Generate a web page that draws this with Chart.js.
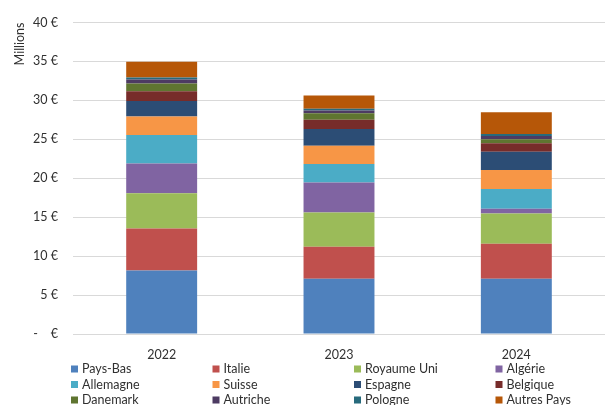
<!DOCTYPE html>
<html>
<head>
<meta charset="utf-8">
<script src="https://cdn.jsdelivr.net/npm/chart.js@4/dist/chart.umd.min.js"></script>
<style>
html,body{margin:0;padding:0;background:#fff;}
#wrap{position:relative;width:606px;height:405px;}
</style>
</head>
<body>
<div id="wrap"><canvas id="c" width="606" height="405"></canvas></div>
<script>
const years = ['2022', '2023', '2024'];
const seriesNames = ['Pays-Bas','Italie','Royaume Uni','Algérie','Allemagne','Suisse','Espagne','Belgique','Danemark','Autriche','Pologne','Autres Pays'];
const paysBas    = [8.16, 7.11, 7.11];
const italie     = [5.38, 4.10, 4.48];
const royaumeUni = [4.52, 4.40, 3.89];
const algerie    = [3.85, 3.85, 0.59];
const allemagne  = [3.64, 2.37, 2.54];
const suisse     = [2.37, 2.33, 2.46];
const espagne    = [1.99, 2.16, 2.32];
const belgique   = [1.27, 1.18, 1.10];
const danemark   = [1.00, 0.85, 0.51];
const autriche   = [0.50, 0.34, 0.42];
const pologne    = [0.25, 0.25, 0.25];
const autresPays = [2.03, 1.69, 2.79];
const seriesValues = [paysBas, italie, royaumeUni, algerie, allemagne, suisse, espagne, belgique, danemark, autriche, pologne, autresPays];
const colors = ['#4F81BD','#C0504D','#9BBB59','#8064A2','#4BACC6','#F79646','#2C4D75','#772C2A','#5F7530','#4D3B62','#276A7C','#B65708'];
const yTicks = [0,5,10,15,20,25,30,35,40];

const FONT = 'Lato';
const TEXT = '#303030';
const legendPlugin = {
  id: 'gridLegend',
  afterDraw(chart) {
    const ctx = chart.ctx;
    ctx.save();
    ctx.font = '12.5px ' + FONT;
    ctx.textBaseline = 'middle';
    ctx.textAlign = 'left';
    chart.data.datasets.forEach((ds, i) => {
      const col = i % 4, row = Math.floor(i / 4);
      const x = 71 + col * 141.5;
      const y = 369 + row * 15.5;
      ctx.fillStyle = ds.backgroundColor;
      ctx.fillRect(x, y - 3.5, 7, 7);
      ctx.fillStyle = TEXT;
      ctx.fillText(ds.label, x + 11, y);
    });
    ctx.restore();
  }
};

new Chart(document.getElementById('c'), {
  type: 'bar',
  data: {
    labels: years,
    datasets: seriesNames.map((n, i) => ({
      label: n,
      data: seriesValues[i],
      backgroundColor: colors[i],
      borderWidth: 0,
      barPercentage: 0.4,
      categoryPercentage: 1.0
    }))
  },
  options: {
    responsive: false,
    animation: false,
    layout: { padding: { top: 16, right: 1, bottom: 0, left: 0 } },
    plugins: { legend: { display: false }, tooltip: { enabled: false } },
    scales: {
      x: {
        stacked: true,
        grid: { display: false, drawTicks: false },
        border: { display: false },
        ticks: { color: TEXT, font: { family: FONT, size: 12.5 }, padding: 13 },
        afterFit(s) { s.height = 71; }
      },
      y: {
        stacked: true,
        min: 0, max: 40,
        afterBuildTicks(s) { s.ticks = yTicks.map(v => ({ value: v })); },
        grid: { color: '#d9d9d9', drawTicks: false, lineWidth: 1 },
        border: { display: false },
        ticks: {
          color: TEXT,
          font: { family: FONT, size: 12.5 },
          padding: 15,
          callback: v => v === 0 ? '-    €' : v + ' €'
        },
        title: { display: true, text: 'Millions', align: 'end', color: TEXT, font: { family: FONT, size: 12.5 }, padding: { top: 12, bottom: 0 } },
        afterFit(s) { s.width = 73; }
      }
    }
  },
  plugins: [legendPlugin]
});
</script>
</body>
</html>
